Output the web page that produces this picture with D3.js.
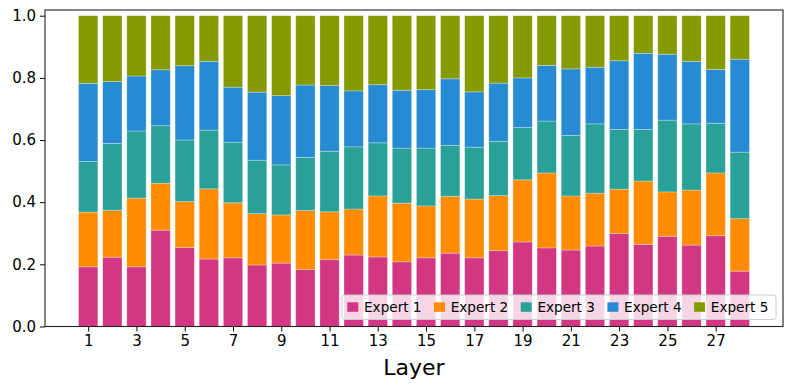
<!DOCTYPE html>
<html><head><meta charset="utf-8">
<script src="https://cdn.jsdelivr.net/npm/d3@7"></script>
<style>body{margin:0;background:#fff}svg{display:block;font-family:"DejaVu Sans",sans-serif}</style>
</head><body><svg id="c" width="793" height="390"></svg>
<script>
const layers = d3.range(1, 29);
const expertNames = ["Expert 1","Expert 2","Expert 3","Expert 4","Expert 5"];
const colors = ["#d33682","#ff8c00","#2aa198","#268bd2","#859900"];
const expert1 = [0.192,0.223,0.192,0.310,0.254,0.217,0.221,0.198,0.204,0.183,0.215,0.230,0.224,0.208,0.221,0.236,0.221,0.244,0.272,0.253,0.246,0.259,0.299,0.264,0.290,0.262,0.292,0.178];
const expert2 = [0.176,0.151,0.221,0.151,0.148,0.226,0.177,0.165,0.155,0.190,0.154,0.148,0.196,0.189,0.167,0.183,0.189,0.177,0.200,0.241,0.174,0.170,0.143,0.204,0.143,0.177,0.202,0.169];
const expert3 = [0.163,0.215,0.216,0.185,0.198,0.189,0.195,0.172,0.161,0.171,0.195,0.200,0.171,0.177,0.186,0.164,0.167,0.175,0.168,0.167,0.195,0.223,0.192,0.166,0.231,0.213,0.160,0.214];
const expert4 = [0.251,0.199,0.177,0.180,0.239,0.221,0.177,0.219,0.223,0.233,0.211,0.180,0.187,0.186,0.188,0.214,0.178,0.187,0.160,0.179,0.214,0.182,0.221,0.245,0.212,0.201,0.173,0.299];
const expert5 = [0.218,0.212,0.194,0.174,0.161,0.147,0.230,0.246,0.257,0.223,0.225,0.242,0.222,0.240,0.238,0.203,0.245,0.217,0.200,0.160,0.171,0.166,0.145,0.121,0.124,0.147,0.173,0.140];
const xTicks = [1,3,5,7,9,11,13,15,17,19,21,23,25,27];
const yTicks = [0,0.2,0.4,0.6,0.8,1.0];

const series = [expert1,expert2,expert3,expert4,expert5];
const rows = layers.map((l,i)=>{const r={layer:l}; expertNames.forEach((n,k)=>r[n]=series[k][i]); return r;});
const stack = d3.stack().keys(expertNames)(rows);

const svg = d3.select("#c");
const L=45, R=783, T=10, B=326.5;
const x = d3.scaleLinear().domain([-1.79, 28.79]).range([L,R]);
const y = d3.scaleLinear().domain([0,1]).range([B, B-310.8]);
const bw = x(0.8)-x(0);

stack.forEach((s,k)=>{
  svg.append("g").selectAll("rect").data(s).join("rect")
    .attr("x", (d,i)=>x(i-0.4))
    .attr("width", bw)
    .attr("y", d=>y(d[1]))
    .attr("height", d=>y(d[0])-y(d[1]))
    .attr("fill", colors[k])
    .attr("stroke", "#ffffff").attr("stroke-opacity",0.35).attr("stroke-width",0.8);
});

// axes
const xAxis = d3.axisBottom(x).tickValues(xTicks.map(t=>t-1)).tickFormat(d=>d+1).tickSize(5).tickPadding(4);
const gx = svg.append("g").attr("transform",`translate(0,${B})`).call(xAxis);
gx.select(".domain").remove();
gx.selectAll("text").attr("font-size",15).attr("font-family","DejaVu Sans").attr("fill","#000");
gx.selectAll("line").attr("stroke","#000").attr("stroke-width",1);

const yAxis = d3.axisLeft(y).tickValues(yTicks).tickFormat(d3.format(".1f")).tickSize(5).tickPadding(4);
const gy = svg.append("g").attr("transform",`translate(${L},0)`).call(yAxis);
gy.select(".domain").remove();
gy.selectAll("text").attr("font-size",15).attr("font-family","DejaVu Sans").attr("fill","#000");
gy.selectAll("line").attr("stroke","#000").attr("stroke-width",1);

svg.append("rect").attr("x",L).attr("y",T).attr("width",R-L).attr("height",B-T)
  .attr("fill","none").attr("stroke","#222").attr("stroke-width",1.1);

svg.append("text").attr("x",(L+R)/2).attr("y",375).attr("text-anchor","middle")
  .attr("font-size",22).attr("fill","#000").text("Layer");

// legend
const lg = svg.append("g");
lg.append("rect").attr("x",342).attr("y",295).attr("width",434).attr("height",24.5).attr("rx",3)
  .attr("fill","#fff").attr("fill-opacity",0.8).attr("stroke","#ccc").attr("stroke-width",1);
expertNames.forEach((n,k)=>{
  const x0 = 347.3 + k*86.7;
  lg.append("rect").attr("x",x0).attr("y",302.3).attr("width",11).attr("height",9.5).attr("fill",colors[k]);
  lg.append("text").attr("x",x0+16.7).attr("y",312).attr("font-size",13.6).attr("fill","#000").text(n);
});
</script></body></html>
